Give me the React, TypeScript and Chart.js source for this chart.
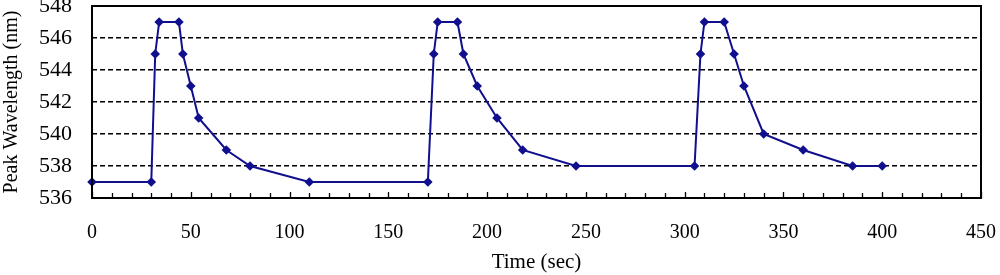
import React, { useEffect, useRef } from "react";
import { Chart, registerables } from "chart.js";

Chart.register(...registerables);

const timeSec = [0, 30, 32, 34, 44, 46, 50, 54, 68, 80, 110, 170, 173, 175, 185, 188, 195, 205, 218, 245, 305, 308, 310, 320, 325, 330, 340, 360, 385, 400];
const peakNm = [537, 537, 545, 547, 547, 545, 543, 541, 539, 538, 537, 537, 545, 547, 547, 545, 543, 541, 539, 538, 538, 545, 547, 547, 545, 543, 540, 539, 538, 538];

const xTitle = "Time (sec)";
const yTitle = "Peak Wavelength (nm)";
const FONT = "'Liberation Serif', 'Times New Roman', serif";

const framePlugin = {
  id: "frame",
  afterDraw(chart: any) {
    const { ctx, chartArea, scales } = chart;
    const x = scales.x;
    ctx.save();
    ctx.strokeStyle = "#000";
    ctx.lineWidth = 1.3;
    for (let v = 0; v <= 450; v += 10) {
      const px = Math.round(x.getPixelForValue(v)) + 0.5;
      ctx.beginPath();
      ctx.moveTo(px, chartArea.bottom);
      ctx.lineTo(px, chartArea.bottom - (v % 50 === 0 ? 6 : 5));
      ctx.stroke();
    }
    ctx.lineWidth = 2;
    ctx.strokeRect(chartArea.left, chartArea.top, chartArea.right - chartArea.left, chartArea.bottom - chartArea.top);
    ctx.restore();
  },
};

export default function App() {
  const ref = useRef<HTMLCanvasElement>(null);
  useEffect(() => {
    if (!ref.current) return;
    const chart = new Chart(ref.current, {
      type: "line",
      data: {
        datasets: [
          {
            data: timeSec.map((t, i) => ({ x: t, y: peakNm[i] })),
            borderColor: "#10108e",
            backgroundColor: "#10108e",
            borderWidth: 2,
            pointStyle: "rectRot",
            pointRadius: 4.8,
            pointBorderWidth: 0,
            tension: 0,
            clip: false as any,
          },
        ],
      },
      options: {
        animation: false,
        responsive: false,
        maintainAspectRatio: false,
        layout: { padding: { top: 6, right: 19, bottom: 0, left: 0 } },
        plugins: { legend: { display: false }, tooltip: { enabled: false } },
        scales: {
          x: {
            type: "linear",
            min: 0,
            max: 450,
            ticks: { stepSize: 50, color: "#000", padding: 23, maxRotation: 0, font: { family: FONT, size: 20 } },
            grid: { display: false, drawTicks: false },
            border: { display: false },
            title: { display: true, text: xTitle, color: "#000", font: { family: FONT, size: 21 }, padding: { top: 0, bottom: 0 } },
            afterFit: (s: any) => { s.height = 77; s.paddingLeft = 0; s.paddingRight = 0; },
          },
          y: {
            min: 536,
            max: 548,
            ticks: { stepSize: 2, color: "#000", padding: 20, font: { family: FONT, size: 22 } },
            grid: {
              drawTicks: false,
              color: (c: any) => (c.tick && (c.tick.value === 536 || c.tick.value === 548) ? "rgba(0,0,0,0)" : "#000"),
              lineWidth: 1.5,
            },
            border: { display: false, dash: [5, 3] },
            title: { display: true, text: yTitle, color: "#000", font: { family: FONT, size: 20 }, padding: { top: 0, bottom: 0 } },
            afterFit: (s: any) => { s.width = 92; s.paddingTop = 0; s.paddingBottom = 0; },
          },
        },
      },
      plugins: [framePlugin],
    });
    return () => chart.destroy();
  }, []);
  return (
    <div style={{ position: "fixed", left: 0, top: 0, width: 1000, height: 275, background: "#fff" }}>
      <canvas ref={ref} width={1000} height={275} style={{ width: 1000, height: 275 }} />
    </div>
  );
}
